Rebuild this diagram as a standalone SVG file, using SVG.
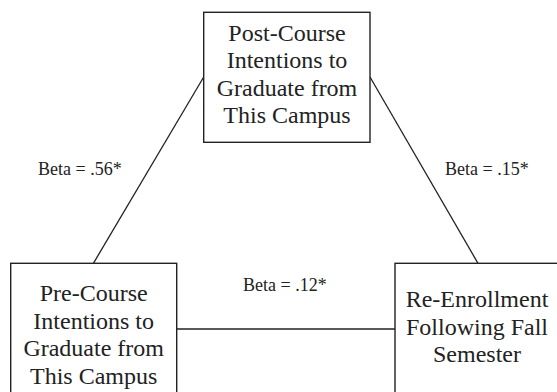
<svg xmlns="http://www.w3.org/2000/svg" width="557" height="392" viewBox="0 0 557 392">
<style>
.box{fill:#fff;stroke:#222;stroke-width:1.4}
.t{font-family:"Liberation Serif","Times New Roman",serif;font-size:24px;fill:#222;text-anchor:middle}
.lbl{font-family:"Liberation Serif","Times New Roman",serif;font-size:18px;fill:#222}
.edge{stroke:#222;stroke-width:1.3;fill:none}
</style>
<rect width="557" height="392" fill="#fff"/>
<g id="connectors">
<line class="edge" x1="203.7" y1="77" x2="93.4" y2="263.3"/>
<line class="edge" x1="370" y1="77" x2="478" y2="263.3"/>
<line class="edge" x1="176.7" y1="329" x2="395" y2="329"/>
<text class="lbl" x="38" y="175">Beta = .56*</text>
<text class="lbl" x="445" y="175">Beta = .15*</text>
<text class="lbl" x="243" y="291">Beta = .12*</text>
</g>
<g id="post">
<rect class="box" x="203.7" y="12.3" width="166.3" height="130"/>
<text class="t" x="287" y="40.5">Post-Course</text>
<text class="t" x="287" y="68">Intentions to</text>
<text class="t" x="287" y="95.7">Graduate from</text>
<text class="t" x="287" y="123.3">This Campus</text>
</g>
<g id="pre">
<rect class="box" x="10.7" y="263.3" width="166" height="140"/>
<text class="t" x="93.7" y="301">Pre-Course</text>
<text class="t" x="93.7" y="328.6">Intentions to</text>
<text class="t" x="93.7" y="356.2">Graduate from</text>
<text class="t" x="93.7" y="383.8">This Campus</text>
</g>
<g id="reenroll">
<rect class="box" x="395" y="263.3" width="170" height="140"/>
<text class="t" x="477" y="307">Re-Enrollment</text>
<text class="t" x="477" y="334.6">Following Fall</text>
<text class="t" x="477" y="362.2">Semester</text>
</g>
</svg>
